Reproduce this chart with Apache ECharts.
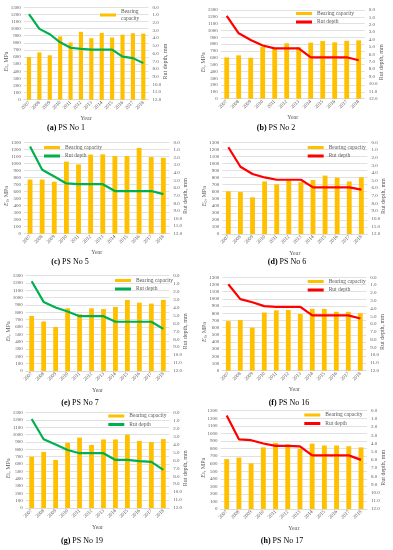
<!DOCTYPE html>
<html><head><meta charset="utf-8">
<script src="https://cdn.jsdelivr.net/npm/echarts@6/dist/echarts.min.js"></script>
<style>html,body{margin:0;padding:0;background:#fff}#c{width:393px;height:550px}</style>
</head><body><div id="c"></div>
<script>
const years = ['2007','2008','2009','2010','2011','2012','2013','2014','2015','2016','2017','2018'];

const bearingA = [600, 665, 625, 890, 805, 955, 865, 940, 875, 915, 935, 930];
const rutA     = [0.9, 2.8, 3.5, 4.55, 5.25, 5.4, 5.5, 5.5, 5.5, 6.4, 6.6, 7.25];
const bearingB = [605, 635, 600, 760, 740, 812, 755, 822, 845, 826, 848, 855];
const rutB     = [0.8, 3.15, 4.05, 4.8, 5.2, 5.2, 5.2, 6.4, 6.4, 6.4, 6.4, 6.8];
const bearingC = [770, 770, 740, 1025, 985, 1125, 1128, 1105, 1105, 1220, 1090, 1080];
const rutC     = [0.55, 3.6, 4.5, 5.4, 5.5, 5.5, 5.5, 6.4, 6.4, 6.4, 6.4, 6.8];
const bearingD = [605, 595, 520, 745, 705, 760, 733, 765, 828, 800, 745, 805];
const rutD     = [0.65, 3.2, 4.15, 4.6, 4.9, 4.9, 4.9, 5.9, 5.9, 5.9, 5.9, 6.2];
const bearingE = [750, 675, 600, 855, 775, 855, 845, 875, 970, 932, 920, 970];
const rutE     = [0.7, 3.3, 4.0, 4.5, 5.1, 5.1, 5.1, 5.8, 5.8, 5.8, 5.8, 6.7];
const bearingF = [690, 705, 600, 810, 840, 845, 790, 860, 860, 820, 820, 800];
const rutF     = [0.9, 2.8, 3.2, 3.7, 3.8, 3.8, 3.8, 4.9, 4.9, 4.9, 4.9, 5.3];
const bearingG = [700, 765, 655, 890, 960, 860, 935, 935, 1000, 915, 900, 940];
const rutG     = [0.8, 3.35, 4.0, 4.7, 5.1, 5.1, 5.1, 5.95, 5.95, 6.1, 6.2, 7.2];
const bearingH = [660, 680, 605, 815, 875, 855, 795, 865, 840, 840, 830, 815];
const rutH     = [0.6, 3.5, 3.6, 4.0, 4.3, 4.3, 4.35, 5.45, 5.45, 5.45, 5.45, 6.0];

const F = "'Liberation Serif','Times New Roman',serif";
const GREEN = '#00B050', RED = '#FF0000', BAR = '#FFC000', TXT = '#595959', GRIDC = '#D9D9D9';

const panels = [
  {key:'a', label:'PS No 1',  bearing:bearingA, rut:rutA, color:GREEN, box:[23.8,7.3,148.5,99.7],  legend:[100,8],   rutLegend:false, cap:[66,128]},
  {key:'b', label:'PS No 2',  bearing:bearingB, rut:rutB, color:RED,   box:[220.7,10,364.7,98.7],  legend:[296,10],  rutLegend:true,  cap:[276,128]},
  {key:'c', label:'PS No 5',  bearing:bearingC, rut:rutC, color:GREEN, box:[24,142.3,169.4,233.7], legend:[44,144],  rutLegend:true,  cap:[70,262]},
  {key:'d', label:'PS No 6',  bearing:bearingD, rut:rutD, color:RED,   box:[222.3,142.3,367.4,234], legend:[307.7,144], rutLegend:true, cap:[287,262]},
  {key:'e', label:'PS No 7',  bearing:bearingE, rut:rutE, color:GREEN, box:[25.7,275.7,169.3,371], legend:[115,277], rutLegend:true,  cap:[80,403]},
  {key:'f', label:'PS No 16', bearing:bearingF, rut:rutF, color:RED,   box:[222.3,277.3,366.3,370.7], legend:[307.7,278], rutLegend:true, cap:[289,403]},
  {key:'g', label:'PS No 19', bearing:bearingG, rut:rutG, color:GREEN, box:[25.7,412.7,169.3,508], legend:[108.3,412.5], rutLegend:true,  cap:[82,541]},
  {key:'h', label:'PS No 17', bearing:bearingH, rut:rutH, color:RED,   box:[220.6,410.7,367.1,509], legend:[304.3,411.5], rutLegend:true,  cap:[282,541]}
];

const grid = [], xAxis = [], yAxis = [], series = [], legend = [], graphic = [];
panels.forEach((p, i) => {
  const [l, t, r, b] = p.box;
  grid.push({left:l, top:t, width:r - l, height:b - t});
  xAxis.push({
    type:'category', gridIndex:i, data:years,
    axisLine:{lineStyle:{color:GRIDC, width:0.8}}, axisTick:{show:false},
    axisLabel:{rotate:45, interval:0, fontSize:5, color:TXT, fontFamily:F, margin:2, hideOverlap:false},
    name:'Year', nameLocation:'middle', nameGap:16,
    nameTextStyle:{fontSize:6, color:TXT, fontFamily:F}
  });
  yAxis.push({
    type:'value', gridIndex:i, min:0, max:1300, interval:100,
    axisLabel:{fontSize:5, color:TXT, fontFamily:F, margin:3, formatter:v => String(v)},
    splitLine:{lineStyle:{color:GRIDC, width:0.8}},
    axisLine:{show:false}, axisTick:{show:false}
  });
  yAxis.push({
    type:'value', gridIndex:i, position:'right', inverse:true, min:0, max:12, interval:1,
    axisLabel:{fontSize:5, color:TXT, fontFamily:F, margin:4, formatter:v => v.toFixed(1)},
    splitLine:{show:false}, axisLine:{show:false}, axisTick:{show:false}
  });
  series.push({
    type:'bar', name:'Bearing capacity#' + p.key, xAxisIndex:i, yAxisIndex:2*i,
    data:p.bearing, barWidth:'40%', itemStyle:{color:BAR}
  });
  series.push({
    type:'line', name:'Rut depth#' + p.key, xAxisIndex:i, yAxisIndex:2*i + 1,
    data:p.rut, symbol:'none', lineStyle:{color:p.color, width:2.2}, itemStyle:{color:p.color}, z:3
  });
  const ldata = [{name:'Bearing capacity#' + p.key, icon:'rect'}];
  if (p.rutLegend) ldata.push({name:'Rut depth#' + p.key, icon:'rect'});
  legend.push({
    left:p.legend[0], top:p.legend[1], orient:'vertical', itemWidth:16, itemHeight:3, itemGap:1.5,
    padding:0, selectedMode:false,
    textStyle:{fontSize:5.5, color:TXT, fontFamily:F, lineHeight:7},
    data:ldata,
    formatter: p.rutLegend ? (n => n.split('#')[0]) : (n => 'Bearing\ncapacity')
  });
  const cy = (t + b) / 2 + 8;
  graphic.push({
    type:'text', x:l - 17.5, y:cy, rotation:Math.PI/2,
    style:{text:'{i|E}{s|0}{n|, MPa}', align:'center', verticalAlign:'middle',
      rich:{i:{fontSize:6, fontStyle:'italic', fontFamily:F, fill:TXT},
            s:{fontSize:4, fontFamily:F, fill:TXT, verticalAlign:'bottom', padding:[2,0,0,0]},
            n:{fontSize:6, fontFamily:F, fill:TXT}}}
  });
  graphic.push({
    type:'text', x:r + 16.5, y:cy, rotation:Math.PI/2,
    style:{text:'Rut depth, mm', align:'center', verticalAlign:'middle', fontSize:6, fontFamily:F, fill:TXT}
  });
  graphic.push({
    type:'text', x:p.cap[0], y:p.cap[1],
    style:{text:'{b|(' + p.key + ')}{n| ' + p.label + '}', align:'center', verticalAlign:'middle',
      rich:{b:{fontSize:8, fontWeight:'bold', fontFamily:F, fill:'#000'},
            n:{fontSize:8, fontFamily:F, fill:'#000'}}}
  });
});

const chart = echarts.init(document.getElementById('c'), null, {renderer:'canvas'});
chart.setOption({animation:false, backgroundColor:'#fff', grid, xAxis, yAxis, series, legend, graphic});
</script>
</body></html>
